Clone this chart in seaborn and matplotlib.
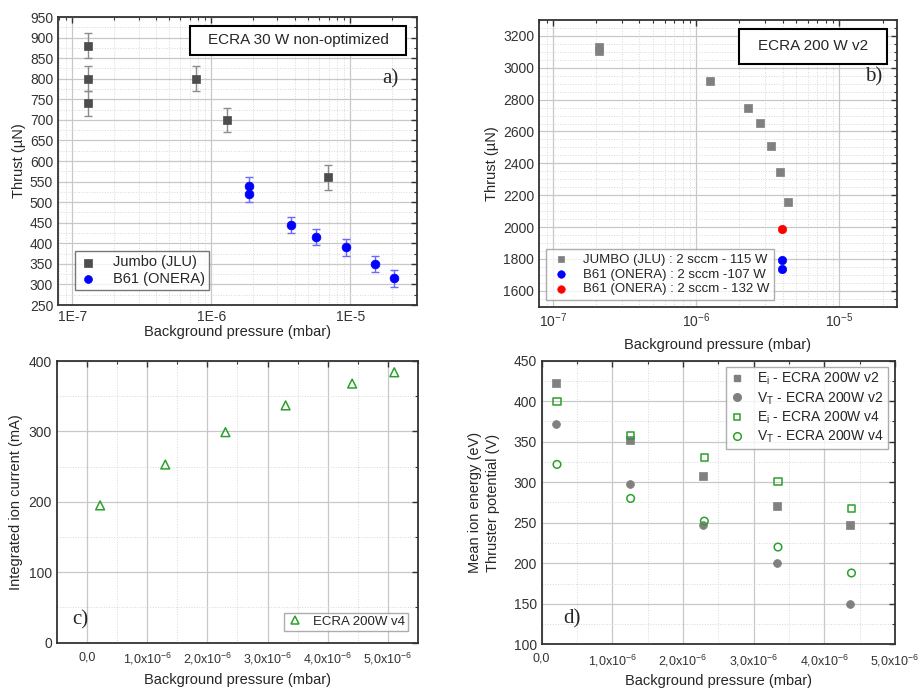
import numpy as np
import pandas as pd
import matplotlib
matplotlib.use("Agg")
import matplotlib.pyplot as plt
import matplotlib.ticker as mticker
from matplotlib.patches import Rectangle
from matplotlib.lines import Line2D
import seaborn as sns

# ---- a) ECRA 30 W non-optimized ----
jumbo_a_p = [1.3e-7, 1.3e-7, 1.3e-7, 7.8e-7, 1.3e-6, 6.95e-6]
jumbo_a_t = [880, 800, 740, 800, 700, 560]
jumbo_a_err = [30, 30, 30, 30, 30, 30]
b61_a_p = [1.87e-6, 1.87e-6, 3.77e-6, 5.66e-6, 9.4e-6, 1.5e-5, 2.07e-5]
b61_a_t = [540, 520, 445, 415, 390, 350, 315]
b61_a_err = [20, 20, 20, 20, 20, 20, 20]

# ---- b) ECRA 200 W v2 ----
jumbo_b_p = [2.07e-7, 2.07e-7, 1.24e-6, 2.28e-6, 2.8e-6, 3.34e-6, 3.85e-6, 4.38e-6]
jumbo_b_t = [3133, 3103, 2914, 2746, 2652, 2510, 2343, 2157]
b61_107_p = [3.98e-6, 3.98e-6]
b61_107_t = [1791, 1737]
b61_132_p = [3.98e-6]
b61_132_t = [1989]

# ---- c) integrated ion current ----
ion_p = [0.217e-6, 1.3e-6, 2.3e-6, 3.3e-6, 4.406e-6, 5.106e-6]
ion_i = [195, 253, 299, 337, 368, 384]

# ---- d) mean ion energy / thruster potential ----
v2_p = [0.203e-6, 1.245e-6, 2.288e-6, 3.33e-6, 4.37e-6]
ei_v2 = [422, 352, 308, 271, 247]
vt_v2 = [372, 298, 247, 200, 150]
v4_p = [0.217e-6, 1.259e-6, 2.302e-6, 3.344e-6, 4.384e-6]
ei_v4 = [400, 358, 331, 301, 268]
vt_v4 = [322, 280, 252, 220, 188]

pressure_ticks = [0, 1e-6, 2e-6, 3e-6, 4e-6, 5e-6]
pressure_labels = ["0,0", r"1,0x10$^{-6}$", r"2,0x10$^{-6}$", r"3,0x10$^{-6}$",
                   r"4,0x10$^{-6}$", r"5,0x10$^{-6}$"]

sns.set_style("white")
plt.rcParams["font.family"] = ["Liberation Sans", "DejaVu Sans"]
plt.rcParams["mathtext.fontset"] = "custom"
plt.rcParams["mathtext.rm"] = "Liberation Sans"
plt.rcParams["mathtext.it"] = "Liberation Sans:italic"

GRAY_DARK = "#4d4d4d"
GRAY = "#808080"
BLUE = "#0000ff"
RED = "#ff0000"
GREEN = "#2ca02c"
TICK_FS = 10
LIN_TICK_FS = 9
LABEL_FS = 10.5

fig = plt.figure(figsize=(9.19, 6.89), dpi=100)
ax_a = fig.add_axes([0.0631, 0.5573, 0.3907, 0.4180])
ax_b = fig.add_axes([0.5865, 0.5549, 0.3892, 0.4161])
ax_c = fig.add_axes([0.0620, 0.0672, 0.3928, 0.4088])
ax_d = fig.add_axes([0.5894, 0.0649, 0.3845, 0.4116])


def style_axes(ax):
    for sp in ax.spines.values():
        sp.set_color("#333333")
        sp.set_linewidth(1.3)
    ax.tick_params(which="both", direction="in", top=True, right=True,
                   labelsize=TICK_FS, colors="#333333", labelcolor="#333333")
    ax.tick_params(which="major", length=4, width=1)
    ax.tick_params(which="minor", length=2, width=0.8)
    ax.grid(which="major", color="#c8c8c8", linewidth=0.9, linestyle="-")
    ax.grid(which="minor", color="#d8d8d8", linewidth=0.7, linestyle=":")
    ax.set_axisbelow(True)


def title_box(ax, text, x0, y0, x1, y1):
    ax.add_patch(Rectangle((x0, y0), x1 - x0, y1 - y0, transform=ax.transAxes,
                           facecolor="white", edgecolor="black", linewidth=1.5,
                           zorder=5))
    ax.text((x0 + x1) / 2, (y0 + y1) / 2, text, transform=ax.transAxes,
            ha="center", va="center", fontsize=11, zorder=6)


def panel_tag(ax, text, x, y):
    ax.text(x, y, text, transform=ax.transAxes, ha="center", va="center",
            fontsize=15, family="Liberation Serif", zorder=6)


def frame_legend(leg, edge):
    leg.get_frame().set_edgecolor(edge)
    leg.get_frame().set_linewidth(1)
    leg.set_zorder(6)


# ---------------- a) ----------------
ax = ax_a
ax.set_xscale("log")
ax.errorbar(jumbo_a_p, jumbo_a_t, yerr=jumbo_a_err, fmt="none", ecolor="#8c8c8c",
            elinewidth=1, capsize=3, zorder=2)
ax.errorbar(b61_a_p, b61_a_t, yerr=b61_a_err, fmt="none", ecolor="#6a6aff",
            elinewidth=1, capsize=3, zorder=2)
sns.scatterplot(x=jumbo_a_p, y=jumbo_a_t, marker="s", s=34, color=GRAY_DARK,
                edgecolor=GRAY_DARK, linewidth=0.5, ax=ax, zorder=3, label="Jumbo (JLU)")
sns.scatterplot(x=b61_a_p, y=b61_a_t, marker="o", s=40, color=BLUE,
                edgecolor=BLUE, linewidth=0.5, ax=ax, zorder=3, label="B61 (ONERA)")
ax.set_xlim(7.9e-8, 3.03e-5)
ax.set_ylim(250, 950)
ax.yaxis.set_major_locator(mticker.MultipleLocator(50))
ax.yaxis.set_minor_locator(mticker.MultipleLocator(25))
ax.xaxis.set_minor_locator(mticker.LogLocator(base=10, subs=np.arange(2, 10)))
ax.xaxis.set_minor_formatter(mticker.NullFormatter())
ax.set_xticks([1e-7, 1e-6, 1e-5])
ax.set_xticklabels(["1E-7", "1E-6", "1E-5"])
style_axes(ax)
ax.set_xlabel("Background pressure (mbar)", fontsize=LABEL_FS, labelpad=1)
ax.set_ylabel("Thrust (µN)", fontsize=LABEL_FS, labelpad=3)
leg = ax.legend(loc="lower left", bbox_to_anchor=(0.047, 0.052), borderaxespad=0,
                fontsize=10.5, frameon=True, fancybox=False, handlelength=1.2,
                handletextpad=1.1, borderpad=0.3, labelspacing=0.15, markerscale=0.9)
frame_legend(leg, "#555555")
title_box(ax, "ECRA 30 W non-optimized", 0.368, 0.868, 0.969, 0.969)
panel_tag(ax, "a)", 0.925, 0.785)

# ---------------- b) ----------------
ax = ax_b
ax.set_xscale("log")
ax.errorbar(jumbo_b_p, jumbo_b_t, yerr=15, fmt="none", ecolor="#c0c0c0",
            elinewidth=1, capsize=2, zorder=2)
sns.scatterplot(x=jumbo_b_p, y=jumbo_b_t, marker="s", s=30, color=GRAY,
                edgecolor=GRAY, linewidth=0.5, ax=ax, zorder=3,
                label="JUMBO (JLU) : 2 sccm - 115 W")
sns.scatterplot(x=b61_107_p, y=b61_107_t, marker="o", s=36, color=BLUE,
                edgecolor=BLUE, linewidth=0.5, ax=ax, zorder=3,
                label="B61 (ONERA) : 2 sccm -107 W")
sns.scatterplot(x=b61_132_p, y=b61_132_t, marker="o", s=36, color=RED,
                edgecolor=RED, linewidth=0.5, ax=ax, zorder=3,
                label="B61 (ONERA) : 2 sccm - 132 W")
ax.set_xlim(10 ** -7.1, 10 ** -4.6)
ax.set_ylim(1500, 3300)
ax.yaxis.set_major_locator(mticker.MultipleLocator(200))
ax.yaxis.set_minor_locator(mticker.MultipleLocator(50))
ax.xaxis.set_minor_locator(mticker.LogLocator(base=10, subs=np.arange(2, 10)))
ax.xaxis.set_minor_formatter(mticker.NullFormatter())
ax.set_xticks([1e-7, 1e-6, 1e-5])
ax.set_xticklabels([r"10$^{-7}$", r"10$^{-6}$", r"10$^{-5}$"])
style_axes(ax)
ax.set_xlabel("Background pressure (mbar)", fontsize=LABEL_FS, labelpad=6)
ax.set_ylabel("Thrust (µN)", fontsize=LABEL_FS, labelpad=3)
leg = ax.legend(loc="lower left", bbox_to_anchor=(0.019, 0.023), borderaxespad=0,
                fontsize=9.5, frameon=True, fancybox=False, handlelength=1.6,
                handletextpad=0.9, borderpad=0.35, labelspacing=0.2, markerscale=0.9)
frame_legend(leg, "#999999")
title_box(ax, "ECRA 200 W v2", 0.56, 0.848, 0.972, 0.969)
panel_tag(ax, "b)", 0.937, 0.80)

# ---------------- c) ----------------
ax = ax_c
sns.scatterplot(x=ion_p, y=ion_i, marker="^", s=40, facecolor="none",
                edgecolor=GREEN, linewidth=1.1, ax=ax, zorder=3)
ax.set_xlim(-0.5e-6, 5.5e-6)
ax.set_ylim(0, 400)
ax.yaxis.set_major_locator(mticker.MultipleLocator(100))
ax.yaxis.set_minor_locator(mticker.MultipleLocator(50))
ax.set_xticks(pressure_ticks)
ax.set_xticklabels(pressure_labels)
ax.xaxis.set_minor_locator(mticker.MultipleLocator(0.5e-6))
style_axes(ax)
ax.tick_params(axis="x", pad=6, labelsize=LIN_TICK_FS)
ax.set_xlabel("Background pressure (mbar)", fontsize=LABEL_FS, labelpad=4)
ax.set_ylabel("Integrated ion current (mA)", fontsize=LABEL_FS, labelpad=4)
h = [Line2D([], [], marker="^", linestyle="none", markerfacecolor="none",
            markeredgecolor=GREEN, markeredgewidth=1.1, markersize=6)]
leg = ax.legend(h, ["ECRA 200W v4"], loc="lower right", bbox_to_anchor=(0.972, 0.043),
                borderaxespad=0, fontsize=9.5, frameon=True, fancybox=False,
                handlelength=1.2, handletextpad=0.8, borderpad=0.2)
frame_legend(leg, "#999999")
panel_tag(ax, "c)", 0.064, 0.08)

# ---------------- d) ----------------
ax = ax_d
sns.scatterplot(x=v2_p, y=ei_v2, marker="s", s=28, color=GRAY, edgecolor=GRAY,
                linewidth=0.5, ax=ax, zorder=3)
sns.scatterplot(x=v2_p, y=vt_v2, marker="o", s=32, color=GRAY, edgecolor=GRAY,
                linewidth=0.5, ax=ax, zorder=3)
sns.scatterplot(x=v4_p, y=ei_v4, marker="s", s=26, facecolor="none",
                edgecolor=GREEN, linewidth=1.1, ax=ax, zorder=4)
sns.scatterplot(x=v4_p, y=vt_v4, marker="o", s=30, facecolor="none",
                edgecolor=GREEN, linewidth=1.1, ax=ax, zorder=4)
ax.set_xlim(0, 5e-6)
ax.set_ylim(100, 450)
ax.yaxis.set_major_locator(mticker.MultipleLocator(50))
ax.yaxis.set_minor_locator(mticker.MultipleLocator(25))
ax.set_xticks(pressure_ticks)
ax.set_xticklabels(pressure_labels)
ax.xaxis.set_minor_locator(mticker.MultipleLocator(0.5e-6))
style_axes(ax)
ax.tick_params(axis="x", pad=6, labelsize=LIN_TICK_FS)
ax.set_xlabel("Background pressure (mbar)", fontsize=LABEL_FS, labelpad=4)
ax.set_ylabel("Mean ion energy (eV)\nThruster potential (V)", fontsize=LABEL_FS,
              labelpad=10, linespacing=1.35)
hd = [
    Line2D([], [], marker="s", linestyle="none", color=GRAY, markersize=5),
    Line2D([], [], marker="o", linestyle="none", color=GRAY, markersize=5.5),
    Line2D([], [], marker="s", linestyle="none", markerfacecolor="none",
           markeredgecolor=GREEN, markeredgewidth=1.1, markersize=5),
    Line2D([], [], marker="o", linestyle="none", markerfacecolor="none",
           markeredgecolor=GREEN, markeredgewidth=1.1, markersize=5.5),
]
labels_d = [r"E$_\mathrm{i}$ - ECRA 200W v2", r"V$_\mathrm{T}$ - ECRA 200W v2",
            r"E$_\mathrm{i}$ - ECRA 200W v4", r"V$_\mathrm{T}$ - ECRA 200W v4"]
leg = ax.legend(hd, labels_d, loc="upper right", bbox_to_anchor=(0.979, 0.978),
                borderaxespad=0, fontsize=10, frameon=True, fancybox=False,
                handlelength=1.0, handletextpad=0.9, borderpad=0.3, labelspacing=0.2)
frame_legend(leg, "#999999")
panel_tag(ax, "d)", 0.085, 0.088)

fig.savefig("out.png", dpi=100)
